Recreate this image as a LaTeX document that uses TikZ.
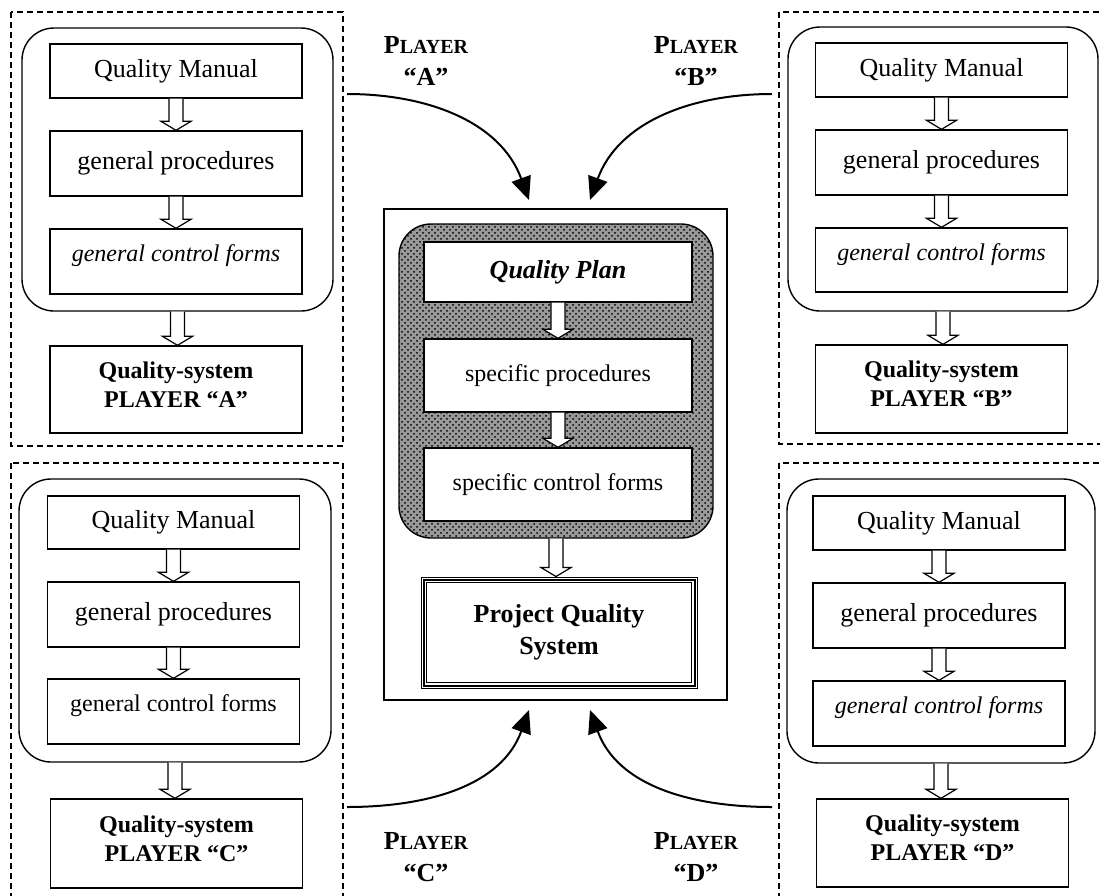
\documentclass[tikz,border=0pt]{standalone}
\usepackage{fontspec}
\setmainfont{Liberation Serif}
\usetikzlibrary{positioning,arrows.meta,calc,patterns}
\newcommand{\plyr}{{\fontsize{13}{16}\selectfont P}{\fontsize{10}{16}\selectfont LAYER}}
\newcommand{\blockarrow}[2]{%
  \draw[hollow] let \p1=(#1.south), \p2=(#2.north) in
    (\x1-3.5pt,\y1) -- (\x1-3.5pt,\y2+4.5pt) -- (\x1-7.5pt,\y2+4.5pt) -- (\x1,\y2)
    -- (\x1+7.5pt,\y2+4.5pt) -- (\x1+3.5pt,\y2+4.5pt) -- (\x1+3.5pt,\y1);}
\tikzset{
  frame/.style={draw, line width=0.7pt, dash pattern=on 3pt off 2pt},
  group/.style={draw, rounded corners=16pt, line width=0.7pt, inner sep=0pt},
  plate/.style={draw, rounded corners=16pt, line width=0.7pt, inner sep=0pt,
    preaction={fill=gray!80}, pattern=crosshatch dots},
  docbox/.style={draw, fill=white, line width=0.7pt, inner sep=0pt, align=center,
    minimum width=126pt, font=\fontsize{13}{15}\selectfont},
  formbox/.style={docbox, font=\fontsize{12}{14}\selectfont, text depth=8pt},
  outbox/.style={docbox, font=\bfseries\fontsize{12}{14.5}\selectfont, text depth=5pt},
  hollow/.style={draw, fill=white, line width=0.6pt, line join=miter},
  feed/.style={line width=1pt, -{Triangle[length=11.5pt,width=10pt]}},
  playerlbl/.style={align=center, inner sep=0pt, font=\bfseries\fontsize{13}{16}\selectfont}
}
\begin{document}
\begin{tikzpicture}[x=0.5pt,y=-0.5pt]
  \useasboundingbox (0,0) rectangle (1100,896);
  \clip (0,0) rectangle (1100,896);

  % dashed frames of the players
  \draw[frame] (11,12) rectangle (343,446);
  \draw[frame] (779,12) rectangle (1112,444);
  \draw[frame] (11,463) rectangle (343,910);
  \draw[frame] (779,463) rectangle (1112,910);

  % player A
  \node[group, minimum width=155.5pt, minimum height=141.5pt] (grpA) at (177.5,169.5) {};
  \node[docbox, minimum height=27pt] (manA) at (176,71) {Quality Manual};
  \node[docbox, minimum height=32.5pt] (procA) at (176,163.5) {general procedures};
  \node[formbox, minimum height=32.5pt] (formA) at (176,261.5) {\itshape general control forms};
  \node[outbox, minimum height=43.5pt] (sysA) at (176,389.5) {Quality-system\\PLAYER “A”};
  \blockarrow{manA}{procA}
  \blockarrow{procA}{formA}
  \blockarrow{grpA}{sysA}

  % player B
  \node[group, minimum width=155pt, minimum height=142pt] (grpB) at (943,169) {};
  \node[docbox, minimum height=27pt] (manB) at (941.5,70) {Quality Manual};
  \node[docbox, minimum height=32.5pt] (procB) at (941.5,162.5) {general procedures};
  \node[formbox, minimum height=32pt] (formB) at (941.5,260) {\itshape general control forms};
  \node[outbox, minimum height=44pt] (sysB) at (941.5,389) {Quality-system\\PLAYER “B”};
  \blockarrow{manB}{procB}
  \blockarrow{procB}{formB}
  \blockarrow{grpB}{sysB}

  % player C
  \node[group, minimum width=156pt, minimum height=141.5pt] (grpC) at (175,620.5) {};
  \node[docbox, minimum height=26.5pt] (manC) at (173.5,522.5) {Quality Manual};
  \node[docbox, minimum height=32.5pt] (procC) at (173.5,614.5) {general procedures};
  \node[formbox, minimum height=32.5pt] (formC) at (173.5,711.5) {general control forms};
  \node[outbox, minimum height=44.5pt] (sysC) at (176.5,843.5) {Quality-system\\PLAYER “C”};
  \blockarrow{manC}{procC}
  \blockarrow{procC}{formC}
  \blockarrow{grpC}{sysC}

  % player D
  \node[group, minimum width=154pt, minimum height=142pt] (grpD) at (941,621) {};
  \node[docbox, minimum height=27pt] (manD) at (939,523) {Quality Manual};
  \node[docbox, minimum height=32.5pt] (procD) at (939,615.5) {general procedures};
  \node[formbox, minimum height=32.5pt] (formD) at (939,713.5) {\itshape general control forms};
  \node[outbox, minimum height=44pt] (sysD) at (942.5,843) {Quality-system\\PLAYER “D”};
  \blockarrow{manD}{procD}
  \blockarrow{procD}{formD}
  \blockarrow{grpD}{sysD}

  % project in the middle
  \node[draw, line width=0.7pt, minimum width=171.5pt, minimum height=245.5pt] (board) at (555.5,454.5) {};
  \node[plate, minimum width=157pt, minimum height=157pt] (plan) at (556,381) {};
  \node[docbox, minimum width=134pt, minimum height=30pt,
    font=\bfseries\itshape\fontsize{13}{15}\selectfont] (qplan) at (558,272) {Quality Plan};
  \node[docbox, minimum width=134pt, minimum height=36.5pt,
    font=\fontsize{12}{14}\selectfont] (sproc) at (558,375.5) {specific procedures};
  \node[docbox, minimum width=134pt, minimum height=36.5pt,
    font=\fontsize{12}{14}\selectfont] (sform) at (558,484.5) {specific control forms};
  \node[docbox, minimum width=138pt, minimum height=55.5pt, line width=0.5pt,
    font=\bfseries\fontsize{13}{16}\selectfont] (pqs) at (559,632.5) {Project Quality\\System};
  \draw[line width=1pt] ([shift={(1.5pt,-1.5pt)}]pqs.north west) rectangle ([shift={(-1.5pt,1.5pt)}]pqs.south east);
  \draw[line width=0.4pt] ([shift={(2.9pt,-2.9pt)}]pqs.north west) rectangle ([shift={(-2.9pt,2.9pt)}]pqs.south east);
  \blockarrow{qplan}{sproc}
  \blockarrow{sproc}{sform}
  \blockarrow{plan}{pqs}

  % players feeding the project
  \coordinate (fromA) at (347,94);
  \coordinate (toA) at (529,200);
  \coordinate (fromB) at (772,94);
  \coordinate (toB) at (590,200);
  \coordinate (fromC) at (347,807);
  \coordinate (toC) at (529,710);
  \coordinate (fromD) at (772,807);
  \coordinate (toD) at (590,710);
  \draw[feed] (fromA) to[out=0, in=110] (toA);
  \draw[feed] (fromB) to[out=180, in=70] (toB);
  \draw[feed] (fromC) to[out=0, in=-110] (toC);
  \draw[feed] (fromD) to[out=180, in=-70] (toD);

  \node[playerlbl] (lblA) at (426,61) {\plyr\\“A”};
  \node[playerlbl] (lblB) at (696,61) {\plyr\\“B”};
  \node[playerlbl] (lblC) at (426,857) {\plyr\\“C”};
  \node[playerlbl] (lblD) at (696,857) {\plyr\\“D”};
\end{tikzpicture}
\end{document}
